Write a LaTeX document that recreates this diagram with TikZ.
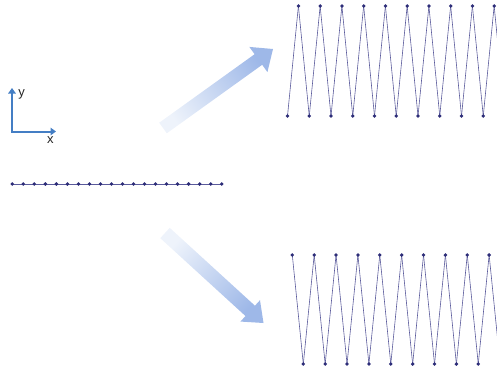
\documentclass[tikz,border=0pt]{standalone}
\usepackage{fontspec}
\setmainfont{Liberation Sans}
\usetikzlibrary{calc,arrows.meta}
\definecolor{axisblue}{RGB}{68,126,196}
\definecolor{zig}{RGB}{90,90,155}
\definecolor{zigdot}{RGB}{45,45,120}
\definecolor{arrdark}{RGB}{158,184,232}
\definecolor{arrlight}{RGB}{238,243,251}
\tikzset{
  dot/.style={circle,fill=zigdot,inner sep=0pt,minimum size=3.8pt},
  zigline/.style={draw=zig,line width=0.6pt},
  axisarrow/.style={draw=axisblue,line width=2pt,line join=miter},
  axislabel/.style={font=\fontsize{13}{15}\selectfont,text=black!85,inner sep=0pt},
  bigarrow/.style={draw=none}
}
\begin{document}
\begin{tikzpicture}[x=1pt,y=-1pt]
\useasboundingbox (0,0) rectangle (497,368);
\clip (0,0) rectangle (497,368);

% axes
\coordinate (O) at (12,131.5);
\coordinate (Y) at (12,88);
\coordinate (X) at (56,131.5);
\draw[axisarrow,{Triangle[length=5.5pt,width=7.5pt]}-{Triangle[length=5.5pt,width=7.5pt]}] (Y) -- (O) -- (X);
\node[axislabel] (ylab) at (21.7,94) {y};
\node[axislabel] (xlab) at (50.3,140.5) {x};

% horizontal chain
\foreach \k in {0,...,19} {\coordinate (h\k) at ({12.3+11.02*\k},184);}
\draw[zigline] (h0) -- (h19);
\foreach \k in {0,...,19} {\node[dot] (hd\k) at (h\k) {};}

% big arrows
\coordinate (T1) at (163,128); \coordinate (P1) at (273,49);
\coordinate (B1) at ($(P1)!18pt!(T1)$);
\shade[bigarrow,top color=arrdark,bottom color=arrlight,shading angle=-54]
  ($(T1)!6.5pt!90:(P1)$) -- ($(B1)!6.5pt!-90:(T1)$) -- ($(B1)!15.5pt!-90:(T1)$) -- (P1)
  -- ($(B1)!15.5pt!90:(T1)$) -- ($(B1)!6.5pt!90:(T1)$) -- ($(T1)!6.5pt!-90:(P1)$) -- cycle;

\coordinate (T2) at (165,233); \coordinate (P2) at (263.5,323);
\coordinate (B2) at ($(P2)!18pt!(T2)$);
\shade[bigarrow,top color=arrdark,bottom color=arrlight,shading angle=-132.6]
  ($(T2)!7pt!90:(P2)$) -- ($(B2)!7pt!-90:(T2)$) -- ($(B2)!14.5pt!-90:(T2)$) -- (P2)
  -- ($(B2)!14.5pt!90:(T2)$) -- ($(B2)!7pt!90:(T2)$) -- ($(T2)!7pt!-90:(P2)$) -- cycle;

% upper zigzag
\foreach \k in {0,...,10} {
  \coordinate (ub\k) at ({287.5+21.75*\k},116);
  \coordinate (ut\k) at ({298.4+21.75*\k},6);
}
\foreach \k [evaluate=\k as \n using int(\k+1)] in {0,...,9} {
  \draw[zigline] (ub\k) -- (ut\k);
  \draw[zigline] (ut\k) -- (ub\n);
}
\foreach \k in {0,...,9} {\node[dot] (ubd\k) at (ub\k) {}; \node[dot] (utd\k) at (ut\k) {};}

% lower zigzag
\foreach \k in {0,...,10} {
  \coordinate (lt\k) at ({292.3+21.87*\k},255);
  \coordinate (lb\k) at ({303.3+21.87*\k},364);
}
\foreach \k [evaluate=\k as \n using int(\k+1)] in {0,...,9} {
  \draw[zigline] (lt\k) -- (lb\k);
  \draw[zigline] (lb\k) -- (lt\n);
}
\foreach \k in {0,...,9} {\node[dot] (ltd\k) at (lt\k) {}; \node[dot] (lbd\k) at (lb\k) {};}
\end{tikzpicture}
\end{document}
